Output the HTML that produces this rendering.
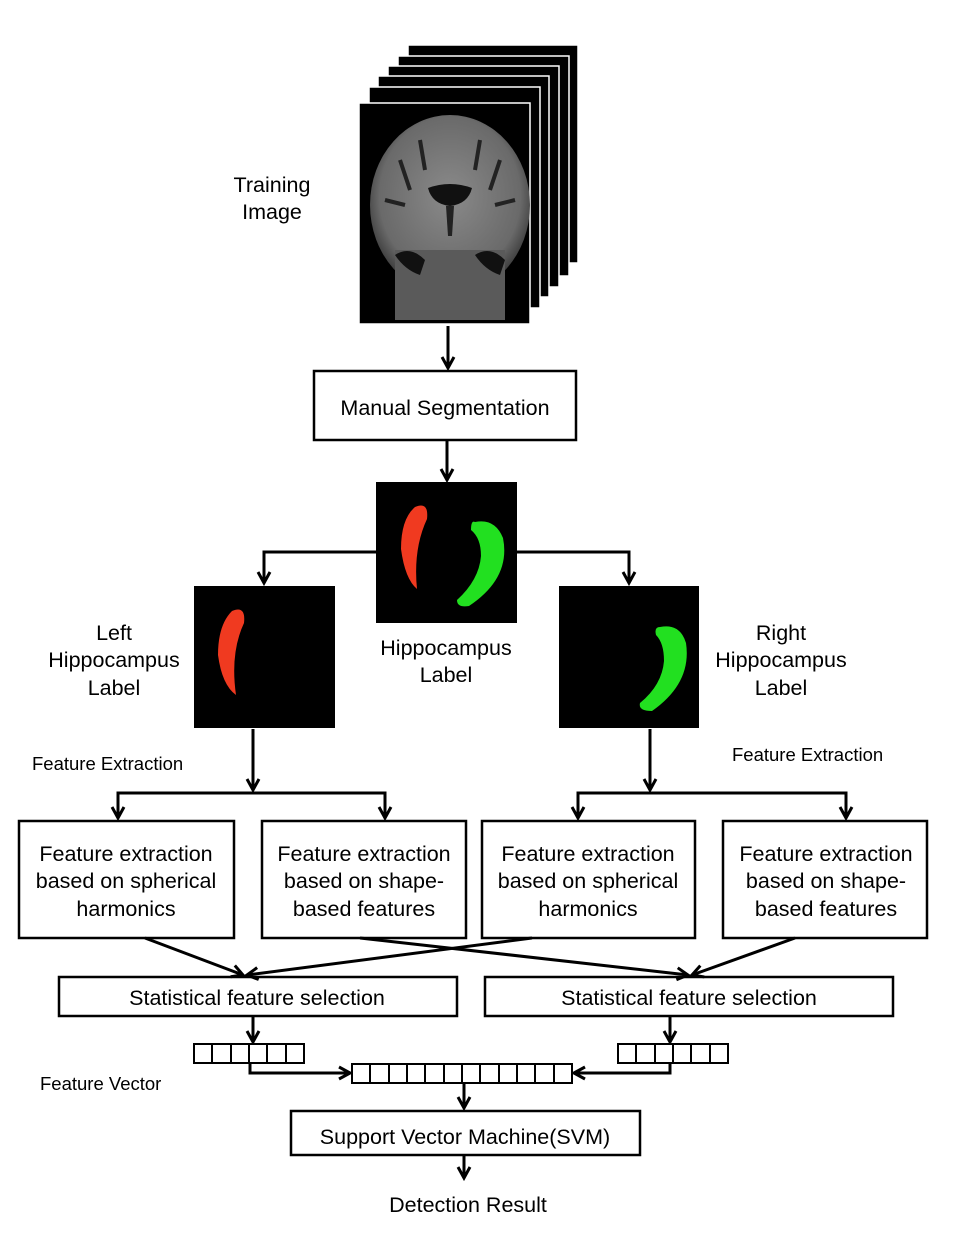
<!DOCTYPE html>
<html><head><style>
html,body{margin:0;padding:0;background:#fff;}
text{font-family:"Liberation Sans",sans-serif;font-size:21.5px;fill:#000;}
</style></head><body>
<svg width="964" height="1236" viewBox="0 0 964 1236" xmlns="http://www.w3.org/2000/svg">
<defs>
<marker id="a" viewBox="0 0 16 16" refX="13" refY="8" markerWidth="16" markerHeight="16" markerUnits="userSpaceOnUse" orient="auto">
<path d="M2,2 L13,8 L2,14" fill="none" stroke="#000" stroke-width="3"/>
</marker>
<radialGradient id="br" cx="50%" cy="45%" r="55%"><stop offset="0" stop-color="#8a8a8a"/><stop offset="0.8" stop-color="#6a6a6a"/><stop offset="1" stop-color="#3a3a3a"/></radialGradient>
</defs>
<g stroke="#fff" stroke-width="1.5" fill="#000">
<rect x="408" y="45" width="170" height="218"/>
<rect x="398" y="56" width="171" height="220"/>
<rect x="388" y="66" width="171" height="221"/>
<rect x="378" y="76" width="171" height="221"/>
<rect x="369" y="87" width="171" height="221"/>
<rect x="359" y="103" width="171" height="221"/>
</g>
<rect x="360" y="104" width="169" height="219" fill="#000"/>
<ellipse cx="450" cy="205" rx="80" ry="90" fill="url(#br)"/>
<rect x="395" y="250" width="110" height="70" fill="#5a5a5a"/>
<path d="M428,188 q22,-8 44,0 q-4,16 -22,18 q-18,-2 -22,-18z" fill="#111"/>
<path d="M446,206 h8 l-2,30 h-4z" fill="#222"/>
<path d="M395,255 q15,-10 30,5 l-5,15 q-15,-5 -25,-20z M475,255 q15,-10 30,5 l-5,15 q-15,-5 -25,-20z" fill="#111"/>
<path d="M400,160 l10,30 M500,160 l-10,30 M420,140 l5,30 M480,140 l-5,30 M385,200 l20,5 M515,200 l-20,5" stroke="#222" stroke-width="4"/>
<text x="272" y="192" text-anchor="middle">Training</text>
<text x="272" y="219" text-anchor="middle">Image</text>
<line x1="448" y1="326" x2="448" y2="368" stroke="#000" stroke-width="3" marker-end="url(#a)"/>
<rect x="314" y="371" width="262" height="69" fill="none" stroke="#000" stroke-width="2.5"/>
<text x="445" y="415" text-anchor="middle">Manual Segmentation</text>
<line x1="447" y1="441" x2="447" y2="480" stroke="#000" stroke-width="3" marker-end="url(#a)"/>
<rect x="376" y="482" width="141" height="141" fill="#000"/>
<path d="M415,507 q14,-6 12,12 q-14,30 -10,70 q-12,-10 -16,-40 q0,-30 14,-42z" fill="#f03a20"/>
<path d="M475,522 q20,-4 28,16 q8,40 -34,68 q-12,2 -12,-6 q22,-20 24,-44 q0,-18 -10,-26 q0,-10 4,-8z" fill="#22e020"/>
<text x="446" y="655" text-anchor="middle">Hippocampus</text>
<text x="446" y="682" text-anchor="middle">Label</text>
<polyline points="376,552 264,552 264,583" fill="none" stroke="#000" stroke-width="3" marker-end="url(#a)"/>
<polyline points="517,552 629,552 629,583" fill="none" stroke="#000" stroke-width="3" marker-end="url(#a)"/>
<rect x="194" y="586" width="141" height="142" fill="#000"/>
<path d="M232,611 q14,-6 12,12 q-14,30 -8,72 q-14,-10 -18,-40 q0,-30 14,-44z" fill="#f03a20"/>
<text x="114" y="640" text-anchor="middle">Left</text>
<text x="114" y="667" text-anchor="middle">Hippocampus</text>
<text x="114" y="695" text-anchor="middle">Label</text>
<rect x="559" y="586" width="140" height="142" fill="#000"/>
<path d="M660,627 q20,-4 26,16 q6,40 -34,68 q-14,0 -12,-8 q22,-18 24,-42 q0,-18 -8,-26 q-2,-8 4,-8z" fill="#22e020"/>
<text x="781" y="640" text-anchor="middle">Right</text>
<text x="781" y="667" text-anchor="middle">Hippocampus</text>
<text x="781" y="695" text-anchor="middle">Label</text>
<text x="32" y="770" style="font-size:18.5px">Feature Extraction</text>
<text x="732" y="761" style="font-size:18.5px">Feature Extraction</text>
<g fill="none" stroke="#000" stroke-width="3">
<line x1="253" y1="729" x2="253" y2="790" marker-end="url(#a)"/>
<line x1="650" y1="729" x2="650" y2="790" marker-end="url(#a)"/>
<polyline points="118,818 118,793 385,793 385,818" marker-end="url(#a)"/>
<line x1="118" y1="800" x2="118" y2="818" marker-end="url(#a)"/>
<polyline points="578,818 578,793 846,793 846,818" marker-end="url(#a)"/>
<line x1="578" y1="800" x2="578" y2="818" marker-end="url(#a)"/>
</g>
<g fill="none" stroke="#000" stroke-width="2.5">
<rect x="19" y="821" width="215" height="117"/>
<rect x="262" y="821" width="204" height="117"/>
<rect x="482" y="821" width="213" height="117"/>
<rect x="723" y="821" width="204" height="117"/>
<rect x="59" y="977" width="398" height="39"/>
<rect x="485" y="977" width="408" height="39"/>
</g>
<g text-anchor="middle">
<text x="126" y="861">Feature extraction</text><text x="126" y="888">based on spherical</text><text x="126" y="916">harmonics</text>
<text x="364" y="861">Feature extraction</text><text x="364" y="888">based on shape-</text><text x="364" y="916">based features</text>
<text x="588" y="861">Feature extraction</text><text x="588" y="888">based on spherical</text><text x="588" y="916">harmonics</text>
<text x="826" y="861">Feature extraction</text><text x="826" y="888">based on shape-</text><text x="826" y="916">based features</text>
<text x="257" y="1005">Statistical feature selection</text>
<text x="689" y="1005">Statistical feature selection</text>
</g>
<g fill="none" stroke="#000" stroke-width="3">
<line x1="145" y1="938" x2="243" y2="975" marker-end="url(#a)"/>
<line x1="532" y1="938" x2="247" y2="975" marker-end="url(#a)"/>
<line x1="360" y1="938" x2="688" y2="975" marker-end="url(#a)"/>
<line x1="795" y1="938" x2="692" y2="975" marker-end="url(#a)"/>
<line x1="253" y1="1017" x2="253" y2="1042" marker-end="url(#a)"/>
<line x1="670" y1="1017" x2="670" y2="1042" marker-end="url(#a)"/>
<polyline points="250,1063 250,1073 350,1073" marker-end="url(#a)"/>
<polyline points="670,1063 670,1073 574,1073" marker-end="url(#a)"/>
<line x1="464" y1="1084" x2="464" y2="1108" marker-end="url(#a)"/>
<line x1="464" y1="1156" x2="464" y2="1178" marker-end="url(#a)"/>
</g>
<g fill="none" stroke="#000" stroke-width="2">
<rect x="194" y="1044" width="110" height="19"/>
<path d="M212,1044v19M231,1044v19M249,1044v19M267,1044v19M286,1044v19"/>
<rect x="618" y="1044" width="110" height="19"/>
<path d="M636,1044v19M655,1044v19M673,1044v19M691,1044v19M710,1044v19"/>
<rect x="352" y="1064" width="220" height="19"/>
<path d="M370,1064v19M389,1064v19M407,1064v19M425,1064v19M444,1064v19M462,1064v19M480,1064v19M499,1064v19M517,1064v19M535,1064v19M554,1064v19"/>
</g>
<text x="40" y="1090" style="font-size:18.5px">Feature Vector</text>
<rect x="291" y="1111" width="349" height="44" fill="none" stroke="#000" stroke-width="2.5"/>
<text x="465" y="1144" text-anchor="middle">Support Vector Machine(SVM)</text>
<text x="468" y="1212" text-anchor="middle">Detection Result</text>
</svg>
</body></html>
